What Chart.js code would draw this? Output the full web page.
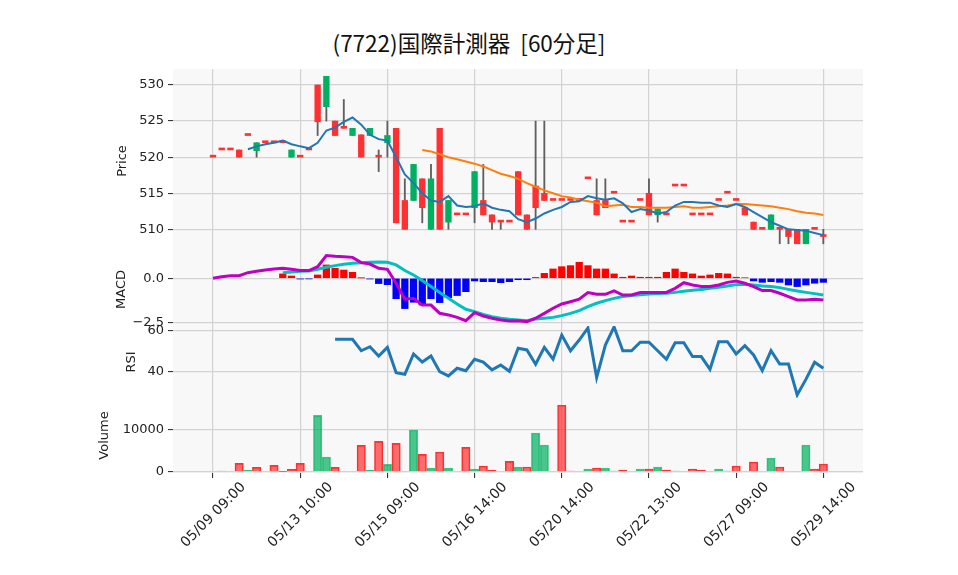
<!DOCTYPE html>
<html>
<head>
<meta charset="utf-8">
<script src="https://cdn.jsdelivr.net/npm/chart.js@4.4.1/dist/chart.umd.min.js"></script>
<style>
  body { margin: 0; background: #fff; width: 958px; height: 575px; position: relative; overflow: hidden; }
  .box { position: absolute; left: 0; }
  #title { position: absolute; top: 26px; left: 0; width: 938px; text-align: center;
           font: 22.5px "Noto Sans CJK JP", sans-serif; color: #111; white-space: pre; }
</style>
</head>
<body>
<div id="title">(7722)国際計測器  [60分足]</div>
<div class="box" style="top:57px"><canvas id="priceChart" width="958" height="208"></canvas></div>
<div class="box" style="top:241px"><canvas id="macdChart" width="958" height="97"></canvas></div>
<div class="box" style="top:314px"><canvas id="rsiChart" width="958" height="96"></canvas></div>
<div class="box" style="top:386px"><canvas id="volChart" width="958" height="183"></canvas></div>
<script>
/* ===== DATA (60 min bars, index 0..70) ===== */
const opens  = [520,521,521,521,523,520.9,522,522,522,520,520,521,530,527,525,524,523,523.1,523,520,522,524,514,514,517,510,524,511,512,512,513,514,512,511,511,518,512,516,515,514,514,514,514,517,514,514,515,511,511,514,515,512,512,516,516,512,512,512,514,515,514,513,511,510,510,510,510,510,508,510,509];
const highs  = [520,521,521,521,523,522,522,522,522,521,520,521,530,531.2,525,528,524,523.1,524,521,525,524,517,519,517,519,524,514,512,512,518,519,512,511,511,518,512,525,525,514,514,514,514,517,517,517,515,511,511,514,517,512.8,512,516,516,512,512,512,514,515,514,513,511,510,512,510,510,510,510,510,510];
const lows   = [520,521,521,520,523,520,522,522,522,520,520,521,523,525,523,524,523,520,523,518,520,510.9,510,514,510.9,510,510,510,512,512,510.9,512,510,510,511,512,510,510,514,514,514,514,514,517,512,513,515,511,511,514,512,511,512,516,516,512,512,512,514,515,514,512,510,510,510,508,508,508,508,510,508];
const closes = [520,521,521,520,523,522,522,522,522,521,520,521,524.9,531.2,523,524,524,520,524,520,523,510.9,510,519,513,517,510,514,512,512,518,512,511,511,511,512,510,513,514,514,514,514,514,517,512,513,515,511,511,514,512,512.8,512,516,516,512,512,512,514,515,514,512,510,510,512,510,509,508,510,510,509];
const volumes = [0,160,0,1970,320,1020,0,1500,80,550,1970,0,13300,3460,1020,0,0,6220,320,7170,1730,6690,0,9840,4090,870,4650,870,0,5750,630,1340,390,0,2440,1100,1100,9130,6300,0,15670,160,0,630,870,870,160,390,0,630,630,1100,390,160,0,630,390,0,630,160,1340,0,2280,0,3230,1100,0,0,6300,630,1810];

const ma5 = [null,null,null,null,521.1,521.5,521.8,522.0,522.3,521.8,521.5,521.25,522.0,523.7,524.1,524.9,525.5,524.5,523.1,522.5,522.3,520.0,517.6,516.4,515.0,514.0,513.8,514.6,513.3,513.1,513.2,513.6,513.0,512.7,512.5,511.4,511.0,511.5,512.2,512.7,513.1,513.8,513.9,514.6,514.3,514.1,514.3,513.6,512.4,512.8,512.6,512.2,512.4,513.3,513.8,513.8,513.7,513.7,513.3,513.1,513.5,513.1,512.4,511.7,511.0,510.5,510.0,509.9,509.8,509.5,509.2];
const ma25 = [null,null,null,null,null,null,null,null,null,null,null,null,null,null,null,null,null,null,null,null,null,null,null,null,521.0,520.8,520.4,520.0,519.7,519.4,519.1,518.7,518.2,517.7,517.4,517.0,516.4,515.9,515.4,515.0,514.6,514.4,514.1,513.9,513.7,513.2,513.3,513.4,513.1,513.1,513.0,513.0,513.0,513.1,513.2,513.0,513.0,513.1,513.2,513.3,513.5,513.5,513.4,513.3,513.2,513.0,512.8,512.5,512.3,512.2,512.0];

const macdLine = [0,0.09,0.15,0.15,0.32,0.40,0.47,0.53,0.57,0.51,0.44,0.44,0.66,1.29,1.25,1.23,1.19,0.89,0.81,0.57,0.51,-0.28,-1.19,-1.14,-1.52,-1.52,-1.99,-2.08,-2.22,-2.41,-1.95,-2.14,-2.27,-2.37,-2.42,-2.41,-2.46,-2.27,-1.99,-1.70,-1.46,-1.33,-1.19,-0.81,-0.91,-0.91,-0.72,-0.95,-0.95,-0.81,-0.81,-0.80,-0.80,-0.57,-0.25,-0.38,-0.47,-0.47,-0.38,-0.23,-0.15,-0.28,-0.47,-0.70,-0.70,-0.85,-1.04,-1.23,-1.23,-1.19,-1.23];
const signalLine = [null,null,null,null,null,null,null,null,0.32,0.36,0.40,0.42,0.51,0.63,0.72,0.80,0.85,0.89,0.91,0.93,0.91,0.76,0.44,0.19,-0.13,-0.47,-0.81,-1.14,-1.46,-1.76,-1.89,-2.05,-2.18,-2.27,-2.33,-2.37,-2.41,-2.31,-2.27,-2.22,-2.12,-1.99,-1.84,-1.61,-1.42,-1.27,-1.14,-1.04,-0.98,-0.93,-0.89,-0.87,-0.85,-0.80,-0.74,-0.68,-0.63,-0.57,-0.51,-0.44,-0.36,-0.34,-0.38,-0.44,-0.47,-0.53,-0.63,-0.72,-0.80,-0.87,-0.95];
const macdHist = [null,null,null,null,null,null,null,null,0.25,0.13,-0.04,-0.03,0.19,0.76,0.57,0.47,0.34,0.02,-0.04,-0.30,-0.36,-1.16,-1.72,-1.36,-1.52,-1.16,-1.38,-1.10,-0.98,-0.76,-0.15,-0.19,-0.19,-0.25,-0.19,-0.08,-0.08,0.05,0.28,0.53,0.66,0.72,0.91,0.72,0.53,0.53,0.25,0.06,0.13,0.06,0.06,0.06,0.34,0.53,0.34,0.25,0.13,0.19,0.28,0.25,0.06,0.03,-0.15,-0.23,-0.19,-0.23,-0.38,-0.47,-0.38,-0.28,-0.23];

const rsi14 = [null,null,null,null,null,null,null,null,null,null,null,null,null,null,55.9,55.9,55.9,50.2,52.2,47.6,51.9,39.3,38.5,48.6,44.6,47.6,39.8,37.7,41.5,40.3,46.0,44.6,40.7,43.1,40.0,51.4,50.6,43.5,51.9,46.0,58.0,50.2,55.5,61.5,36.9,53.0,62.0,50.2,50.2,54.4,54.4,50.2,46.0,54.2,54.2,47.3,47.3,41.0,54.7,54.7,48.6,52.7,48.1,40.3,50.2,43.6,43.6,28.3,36.0,44.5,41.5];

const xTickIdx = [0, 10, 20, 30, 40, 50, 60, 70];
const xTickLabels = ['05/09 09:00', '05/13 10:00', '05/15 09:00', '05/16 14:00', '05/20 14:00', '05/22 13:00', '05/27 09:00', '05/29 14:00'];
const priceTicks = [510, 515, 520, 525, 530];
const macdTicks = [0, -2.5];
const rsiTicks = [40, 60];
const volTicks = [0, 10000];

/* ===== STYLE ===== */
const UP = '#00b060', DOWN = '#fe3032';
const UP_V = 'rgba(0,176,96,0.7)', DOWN_V = 'rgba(254,48,50,0.7)';
const GRID = '#d3d3d3';
const PLOT_BG = '#f8f8f8';
const X_MIN = -4.59, X_MAX = 74.55;
const PLOT_L = 173, RIGHT_PAD = 958 - 863;
const PAD = 12;
const LABEL_SHIFT = 3.5;   // x-label anchor offset (index units)
const TICK_FONT = { family: 'DejaVu Sans', size: 13 };
const XTICK_FONT = { family: 'DejaVu Sans', size: 14 };

Chart.defaults.animation = false;
Chart.defaults.plugins.legend.display = false;
Chart.defaults.plugins.tooltip.enabled = false;

const plotBg = {
  id: 'plotBg',
  beforeDraw(chart) {
    const { ctx, chartArea: a } = chart;
    ctx.save();
    ctx.fillStyle = PLOT_BG;
    ctx.fillRect(a.left, a.top, a.right - a.left, a.bottom - a.top);
    ctx.restore();
  }
};

const pts = arr => arr.map((v, i) => v === null ? null : { x: i, y: v }).filter(p => p);

function xScale(showTicks) {
  return {
    type: 'linear', position: 'bottom', min: X_MIN, max: X_MAX, weight: 0, offset: false,
    afterBuildTicks: s => { s.ticks = xTickIdx.map(v => ({ value: v })); },
    ticks: { display: false },
    grid: { offset: false, color: GRID, lineWidth: 1.2, drawTicks: showTicks, tickLength: 5, tickColor: '#222', tickWidth: 1 },
    border: { display: false },
    afterFit: s => { s.height = showTicks ? 6 : 0; s.paddingLeft = 0; s.paddingRight = 0; }
  };
}

function yScale(min, max, ticks, fmt, title, width) {
  return {
    type: 'linear', position: 'left', min: min, max: max,
    afterBuildTicks: s => { s.ticks = ticks.map(v => ({ value: v })); },
    ticks: { color: '#222', font: TICK_FONT, padding: 4, callback: v => fmt(v) },
    grid: { color: GRID, lineWidth: 1.2, tickLength: 5, tickColor: '#222', tickWidth: 1 },
    border: { display: false },
    title: { display: true, text: title, color: '#222', font: TICK_FONT, padding: 0 },
    afterFit: s => { s.width = width; s.paddingTop = 0; s.paddingBottom = 0; }
  };
}

function layout(titleX, bottom) {
  const left = titleX - 7.8;
  return { left: left, right: RIGHT_PAD, top: PAD, bottom: bottom };
}

/* ===== PRICE PANEL ===== */
const idx = closes.map((c, i) => i);
const wickData = idx.filter(i => highs[i] > lows[i]).map(i => ({ x: i, y: [lows[i], highs[i]] }));
const bodyData = idx.map(i => ({ x: i, y: [opens[i], closes[i]] }));
const bodyColors = idx.map(i => closes[i] > opens[i] ? UP : DOWN);

new Chart(document.getElementById('priceChart'), {
  type: 'bar',
  data: {
    datasets: [
      { type: 'line', data: pts(ma5), borderColor: '#1f77b4', borderWidth: 2, pointRadius: 0, order: 0 },
      { type: 'line', data: pts(ma25), borderColor: '#ff7f0e', borderWidth: 2, pointRadius: 0, order: 0 },
      { data: bodyData, backgroundColor: bodyColors, borderWidth: 0, barThickness: 5.7, minBarLength: 2, grouped: false, order: 1 },
      { data: wickData, backgroundColor: '#606060', borderWidth: 0, barThickness: 1.2, grouped: false, order: 2 }
    ]
  },
  options: {
    responsive: false,
    layout: { padding: layout(122.3, PAD) },
    scales: {
      x: xScale(false),
      y: yScale(506.72, 532.22, priceTicks, v => String(v), 'Price', PLOT_L - (122.3 - 7.8))
    }
  },
  plugins: [plotBg]
});

/* ===== MACD PANEL ===== */
new Chart(document.getElementById('macdChart'), {
  type: 'bar',
  data: {
    datasets: [
      { type: 'line', data: pts(macdLine), borderColor: '#c000c0', borderWidth: 3, pointRadius: 0, order: 0 },
      { type: 'line', data: pts(signalLine), borderColor: '#00c0c0', borderWidth: 3, pointRadius: 0, order: 0 },
      { data: pts(macdHist), backgroundColor: macdHist.filter(v => v !== null).map(v => v >= 0 ? '#ff0000' : '#0000ff'),
        borderWidth: 0, barThickness: 6.6, grouped: false, order: 1 }
    ]
  },
  options: {
    responsive: false,
    layout: { padding: layout(121.7, PAD) },
    scales: {
      x: xScale(false),
      y: yScale(-2.71, 1.4375, macdTicks, v => v.toFixed(1).replace('-', '\u2212'), 'MACD', PLOT_L - (121.7 - 7.8))
    }
  },
  plugins: [plotBg]
});

/* ===== RSI PANEL ===== */
new Chart(document.getElementById('rsiChart'), {
  type: 'line',
  data: {
    datasets: [
      { data: pts(rsi14), borderColor: '#1f77b4', borderWidth: 3, pointRadius: 0 }
    ]
  },
  options: {
    responsive: false,
    layout: { padding: layout(131.7, PAD) },
    scales: {
      x: xScale(false),
      y: yScale(26.75, 62.48, rsiTicks, v => String(v), 'RSI', PLOT_L - (131.7 - 7.8))
    }
  },
  plugins: [plotBg]
});

/* ===== VOLUME PANEL ===== */
const volIdx = idx.filter(i => volumes[i] > 0);
const volUp = i => i > 0 && closes[i] > closes[i - 1];

new Chart(document.getElementById('volChart'), {
  type: 'bar',
  data: {
    datasets: [{
      data: volIdx.map(i => ({ x: i, y: volumes[i] })),
      backgroundColor: volIdx.map(i => volUp(i) ? UP_V : DOWN_V),
      borderColor: volIdx.map(i => volUp(i) ? UP_V : DOWN),
      borderWidth: 1, barThickness: 8.4, grouped: false
    }]
  },
  options: {
    responsive: false,
    layout: { padding: layout(105, 0) },
    scales: {
      x: xScale(true),
      xl: {
        type: 'linear', position: 'bottom', weight: 1, offset: false,
        min: X_MIN - LABEL_SHIFT, max: X_MAX - LABEL_SHIFT,
        afterBuildTicks: s => { s.ticks = xTickIdx.map(v => ({ value: v })); },
        ticks: { autoSkip: false, maxRotation: 45, minRotation: 45, padding: 0, color: '#222', font: XTICK_FONT,
                 callback: v => xTickLabels[xTickIdx.indexOf(v)] },
        grid: { display: false, drawTicks: false, offset: false },
        border: { display: false },
        afterFit: s => { s.height = 90; s.paddingLeft = 0; s.paddingRight = 0; }
      },
      y: yScale(-307, 17382, volTicks, v => String(v), 'Volume', PLOT_L - (105 - 7.8))
    }
  },
  plugins: [plotBg]
});
</script>
</body>
</html>
